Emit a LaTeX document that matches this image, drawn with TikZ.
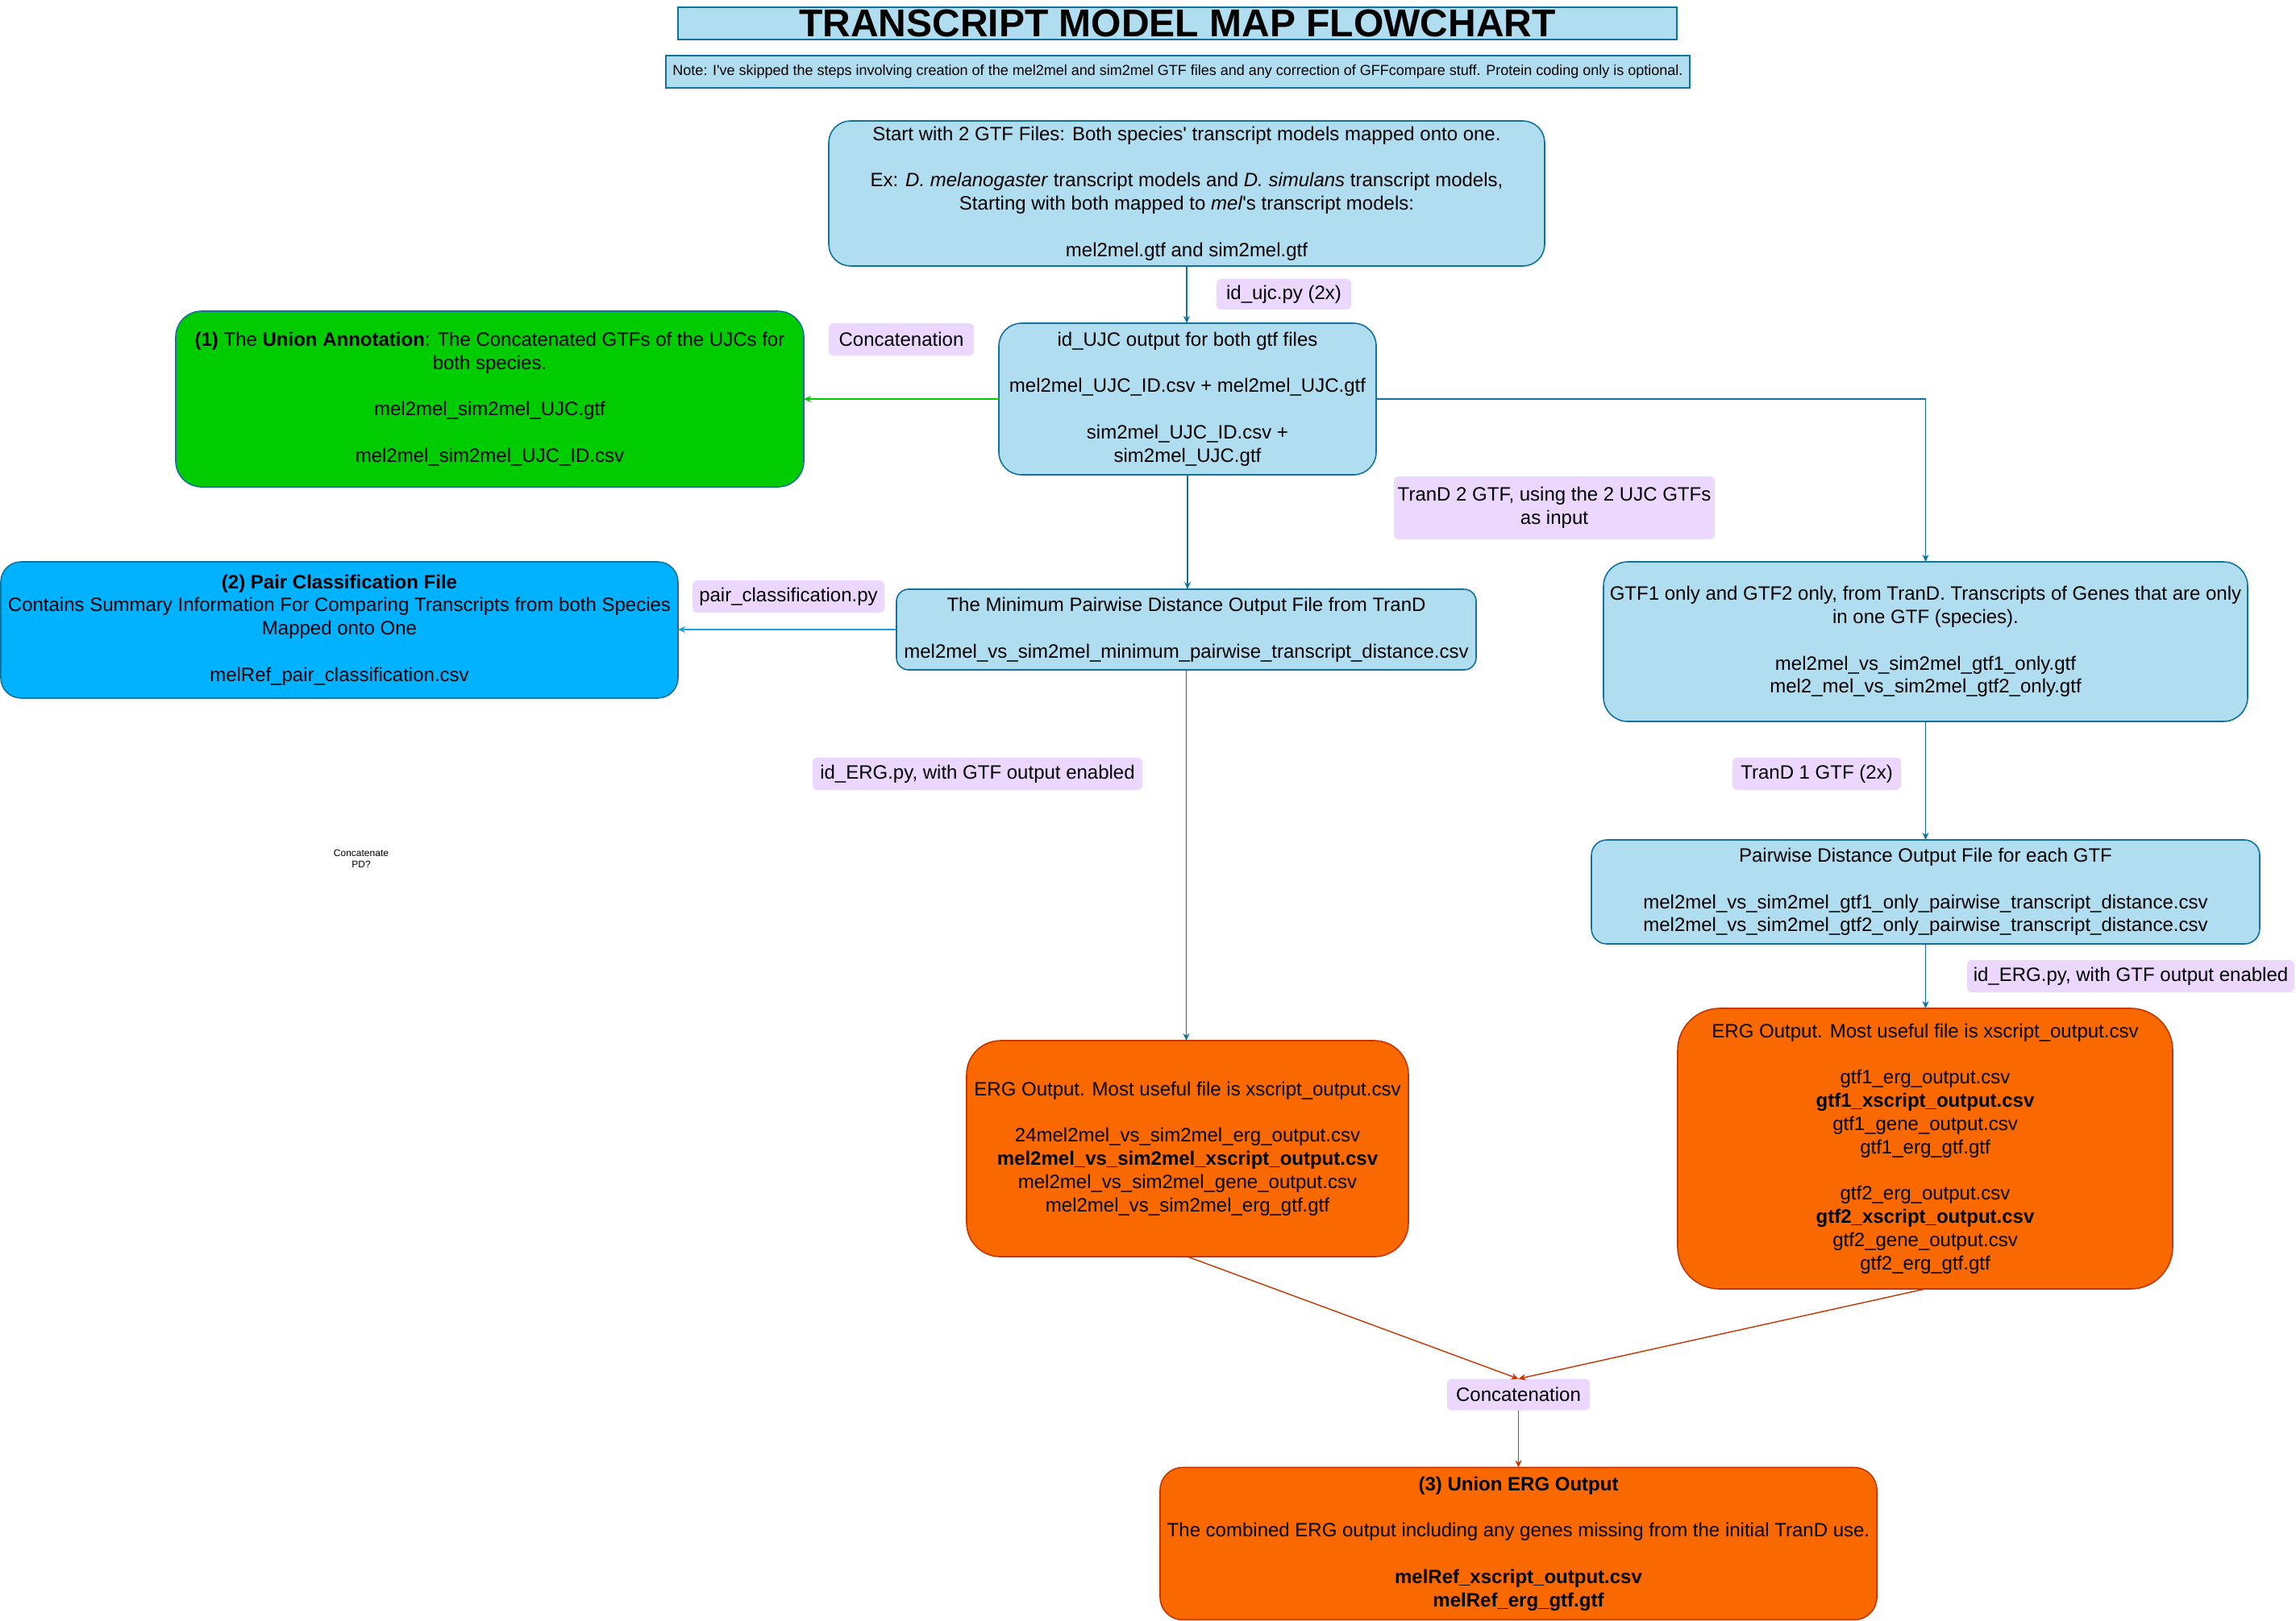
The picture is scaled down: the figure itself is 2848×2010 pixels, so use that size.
\documentclass[tikz,border=0pt]{standalone}
\usepackage{fontspec}
\setmainfont{Liberation Sans}[Ligatures=TeXOff]
\usetikzlibrary{arrows.meta}
\definecolor{bluefill}{HTML}{B1DDF0}
\definecolor{bluedraw}{HTML}{10739E}
\definecolor{greenfill}{HTML}{00CC00}
\definecolor{greenline}{HTML}{00CC00}
\definecolor{pairfill}{HTML}{00B2FF}
\definecolor{pairline}{HTML}{1BA1E2}
\definecolor{orangefill}{HTML}{FA6800}
\definecolor{orangedraw}{HTML}{C73500}
\definecolor{lblfill}{HTML}{EBD7FF}
\tikzset{
  base/.style={line width=0.8pt, align=center, inner sep=0pt, outer sep=0pt,
    font=\fontsize{12}{14.4}\selectfont},
  bluebox/.style={base, draw=bluedraw, fill=bluefill},
  greenbox/.style={base, draw=bluedraw, fill=greenfill},
  pairbox/.style={base, draw=bluedraw, fill=pairfill},
  orangebox/.style={base, draw=orangedraw, fill=orangefill},
  lbl/.style={base, fill=lblfill, rounded corners=3pt},
  conn/.style={line width=0.7pt, draw=bluedraw, -{Stealth[length=4.5pt,width=4pt]}},
  greenconn/.style={conn, draw=greenline},
  pairconn/.style={conn, draw=pairline},
  orangeconn/.style={conn, draw=orangedraw},
}
\begin{document}
\begin{tikzpicture}[x=0.5pt,y=-0.5pt]
\useasboundingbox (0,0) rectangle (2848,2010);

% title and note
\node[bluebox, minimum width=619.5pt, minimum height=20pt,
  font=\fontsize{24}{28.8}\selectfont\bfseries] (title) at (1460.5,29)
  {TRANSCRIPT MODEL MAP FLOWCHART};
\node[bluebox, minimum width=635pt, minimum height=20pt,
  font=\fontsize{9}{10.8}\selectfont] (note) at (1461,89)
  {Note: I've skipped the steps involving creation of the mel2mel and sim2mel GTF files and any correction of GFFcompare stuff. Protein coding only is optional.};

% start
\node[bluebox, rounded corners=13.5pt, minimum width=444pt, minimum height=90pt] (start) at (1472,240)
  {Start with 2 GTF Files: Both species' transcript models mapped onto one.\\[14.4pt]
   Ex: \textit{D. melanogaster} transcript models and \textit{D. simulans} transcript models,\\
   Starting with both mapped to \textit{mel}'s transcript models:\\[14.4pt]
   mel2mel.gtf and sim2mel.gtf};

\node[lbl, minimum width=83.5pt, minimum height=19pt] (ujclbl) at (1592.5,365) {id\_ujc.py (2x)};

% id_UJC
\node[bluebox, rounded corners=14pt, minimum width=234pt, minimum height=94pt] (ujc) at (1473,495)
  {id\_UJC output for both gtf files\\[14.4pt]
   mel2mel\_UJC\_ID.csv + mel2mel\_UJC.gtf\\[14.4pt]
   sim2mel\_UJC\_ID.csv +\\
   sim2mel\_UJC.gtf};

\node[lbl, minimum width=90pt, minimum height=20pt] (concat1) at (1118,421) {Concatenation};

% union annotation
\node[greenbox, rounded corners=16pt, minimum width=389.5pt, minimum height=109pt] (union) at (607.5,495)
  {\textbf{(1)} The \textbf{Union Annotation}: The Concatenated GTFs of the UJCs for\\
   both species.\\[14.4pt]
   mel2mel\_sim2mel\_UJC.gtf\\[14.4pt]
   mel2mel\_sim2mel\_UJC\_ID.csv};

\node[lbl, minimum width=199pt, minimum height=39pt] (trand2) at (1928,630)
  {TranD 2 GTF, using the 2 UJC GTFs\\ as input};

% pair classification
\node[pairbox, rounded corners=12.5pt, minimum width=420pt, minimum height=84.5pt] (pair) at (421,781.5)
  {\textbf{(2) Pair Classification File}\\
   Contains Summary Information For Comparing Transcripts from both Species\\
   Mapped onto One\\[14.4pt]
   melRef\_pair\_classification.csv};

\node[lbl, minimum width=119pt, minimum height=20pt] (pairlbl) at (978,740) {pair\_classification.py};

% minimum pairwise
\node[bluebox, rounded corners=7.5pt, minimum width=359.5pt, minimum height=50pt] (minpw) at (1471.5,781)
  {The Minimum Pairwise Distance Output File from TranD\\[14.4pt]
   mel2mel\_vs\_sim2mel\_minimum\_pairwise\_transcript\_distance.csv};

% gtf only
\node[bluebox, rounded corners=15pt, minimum width=399.5pt, minimum height=99pt] (gtfonly) at (2388.5,796)
  {GTF1 only and GTF2 only, from TranD. Transcripts of Genes that are only\\
   in one GTF (species).\\[14.4pt]
   mel2mel\_vs\_sim2mel\_gtf1\_only.gtf\\
   mel2\_mel\_vs\_sim2mel\_gtf2\_only.gtf};

\node[lbl, minimum width=204.5pt, minimum height=20pt] (erglblL) at (1212.5,960) {id\_ERG.py, with GTF output enabled};
\node[lbl, minimum width=104.5pt, minimum height=20pt] (trand1) at (2253.5,960) {TranD 1 GTF (2x)};

\node[base, font=\fontsize{6}{7.2}\selectfont] (concatpd) at (448,1065) {Concatenate\\ PD?};

% pairwise distance each gtf
\node[bluebox, rounded corners=9.5pt, minimum width=414.5pt, minimum height=64.5pt] (pwdist) at (2388.5,1106.5)
  {Pairwise Distance Output File for each GTF\\[14.4pt]
   mel2mel\_vs\_sim2mel\_gtf1\_only\_pairwise\_transcript\_distance.csv\\
   mel2mel\_vs\_sim2mel\_gtf2\_only\_pairwise\_transcript\_distance.csv};

\node[lbl, minimum width=203pt, minimum height=20pt] (erglblR) at (2643,1211) {id\_ERG.py, with GTF output enabled};

% ERG outputs
\node[orangebox, rounded corners=21pt, minimum width=274pt, minimum height=134pt] (ergL) at (1473,1425)
  {ERG Output. Most useful file is xscript\_output.csv\\[14.4pt]
   24mel2mel\_vs\_sim2mel\_erg\_output.csv\\
   \textbf{mel2mel\_vs\_sim2mel\_xscript\_output.csv}\\
   mel2mel\_vs\_sim2mel\_gene\_output.csv\\
   mel2mel\_vs\_sim2mel\_erg\_gtf.gtf};

\node[orangebox, rounded corners=26pt, minimum width=307pt, minimum height=174pt] (ergR) at (2388,1425)
  {ERG Output. Most useful file is xscript\_output.csv\\[14.4pt]
   gtf1\_erg\_output.csv\\
   \textbf{gtf1\_xscript\_output.csv}\\
   gtf1\_gene\_output.csv\\
   gtf1\_erg\_gtf.gtf\\[14.4pt]
   gtf2\_erg\_output.csv\\
   \textbf{gtf2\_xscript\_output.csv}\\
   gtf2\_gene\_output.csv\\
   gtf2\_erg\_gtf.gtf};

\node[lbl, minimum width=88.5pt, minimum height=19.5pt] (concat2) at (1883.5,1730) {Concatenation};

\node[orangebox, rounded corners=14pt, minimum width=444.5pt, minimum height=94.5pt] (unionerg) at (1883.5,1915)
  {\textbf{(3) Union ERG Output}\\[14.4pt]
   The combined ERG output including any genes missing from the initial TranD use.\\[14.4pt]
   \textbf{melRef\_xscript\_output.csv}\\
   \textbf{melRef\_erg\_gtf.gtf}};

% connectors
\draw[conn] (start.south) -- (start.south |- ujc.north);
\draw[greenconn] (ujc.west) -- (union.east |- ujc.west);
\draw[conn] (ujc.east) -| (gtfonly.north);
\draw[conn] (ujc.south) -- (ujc.south |- minpw.north);
\draw[pairconn] (minpw.west) -- (pair.east |- minpw.west);
\draw[conn] (minpw.south) -- (minpw.south |- ergL.north);
\draw[conn] (gtfonly.south) -- (gtfonly.south |- pwdist.north);
\draw[conn] (pwdist.south) -- (pwdist.south |- ergR.north);
\draw[orangeconn] (ergL.south) -- (concat2.north);
\draw[orangeconn] (ergR.south) -- (concat2.north);
\draw[orangeconn] (concat2.south) -- (unionerg.north);
\end{tikzpicture}
\end{document}
